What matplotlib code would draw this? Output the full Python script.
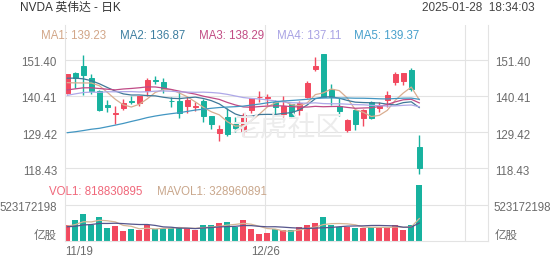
import matplotlib

matplotlib.use("Agg")
import matplotlib.pyplot as plt
from matplotlib.patches import Circle
from matplotlib.transforms import IdentityTransform
import numpy as np

plt.rcParams["font.family"] = ["Liberation Sans", "Noto Sans CJK SC", "DejaVu Sans"]

# daily candles 2024-11-19 .. 2025-01-27
dates = ["11/19", "11/20", "11/21", "11/22", "11/25", "11/26", "11/27", "11/29",
         "12/02", "12/03", "12/04", "12/05", "12/06", "12/09", "12/10", "12/11",
         "12/12", "12/13", "12/16", "12/17", "12/18", "12/19", "12/20", "12/23",
         "12/24", "12/26", "12/27", "12/30", "12/31", "01/02", "01/03", "01/06",
         "01/07", "01/08", "01/10", "01/13", "01/14", "01/15", "01/16", "01/17",
         "01/21", "01/22", "01/23", "01/24", "01/27"]
opens = [141.32, 147.41, 149.35, 145.93, 141.99, 137.70, 135.01, 136.78, 138.83, 138.26,
         142.00, 145.11, 144.60, 138.97, 139.01, 137.36, 137.08, 138.94, 134.18, 129.09,
         133.86, 131.76, 129.81, 136.28, 140.00, 139.70, 138.55, 134.83, 138.03, 136.00,
         140.01, 148.59, 153.03, 142.58, 137.45, 129.99, 136.05, 133.65, 138.64, 136.69,
         139.16, 144.66, 145.05, 148.37, 124.80]
highs = [147.13, 147.56, 152.89, 147.16, 142.05, 139.30, 137.22, 139.35, 140.45, 140.45,
         145.79, 146.54, 145.70, 139.95, 141.82, 140.17, 138.44, 139.60, 134.40, 131.59,
         136.70, 134.03, 135.28, 139.79, 141.90, 140.85, 139.02, 140.27, 138.07, 138.88,
         144.90, 152.16, 153.13, 143.95, 139.92, 133.49, 136.38, 136.45, 138.75, 138.50,
         141.83, 147.79, 147.23, 148.97, 128.40]
lows = [140.99, 142.73, 140.70, 141.10, 135.82, 135.67, 131.80, 136.05, 137.82, 137.32,
        140.30, 143.95, 141.31, 137.13, 133.79, 135.21, 135.80, 132.54, 130.42, 126.86,
        128.28, 129.55, 128.22, 135.12, 138.65, 137.73, 134.71, 134.02, 133.83, 134.63,
        139.73, 147.82, 140.01, 137.56, 134.22, 129.51, 130.05, 131.29, 133.49, 135.46,
        137.09, 143.67, 143.72, 141.88, 116.70]
closes = [147.01, 145.89, 146.67, 141.95, 136.02, 136.92, 135.34, 138.25, 138.63, 140.26,
          145.14, 145.06, 142.44, 138.81, 135.07, 139.31, 137.34, 134.25, 132.00, 130.39,
          128.91, 130.68, 134.70, 139.67, 140.22, 139.93, 137.01, 137.49, 134.29, 138.31,
          144.47, 149.43, 140.14, 140.11, 135.91, 133.23, 131.76, 136.24, 133.57, 137.71,
          140.83, 147.07, 147.22, 142.62, 118.42]
# volume, millions of shares
volumes = [227.8, 309.9, 400.9, 236.4, 344.9, 190.3, 226.4, 141.8, 171.7, 164.4,
           231.2, 172.6, 188.5, 189.3, 210.0, 184.9, 159.2, 231.5, 237.9, 259.4,
           277.4, 209.7, 306.5, 176.1, 105.2, 116.2, 170.6, 167.7, 155.7, 198.2,
           229.3, 265.4, 351.8, 227.3, 207.6, 204.8, 195.6, 185.2, 209.2, 201.2,
           197.7, 237.7, 155.9, 234.7, 818.830895]

# moving average lines as shown on the chart
ma1 = [144.43, 144.36, 144.34, 144.33, 143.51, 141.49, 139.38, 137.70, 137.03, 137.88,
       139.52, 141.47, 142.31, 142.34, 141.30, 140.14, 138.59, 136.96, 135.59, 134.66,
       132.58, 131.25, 131.34, 132.87, 134.84, 137.04, 138.31, 138.86, 137.79, 137.41,
       138.31, 140.80, 141.33, 142.49, 142.01, 139.76, 136.23, 135.45, 134.14, 134.50,
       136.02, 139.08, 141.28, 143.09, 139.23]
ma2 = [145.78, 145.81, 145.59, 145.02, 144.10, 142.96, 141.87, 141.02, 140.68, 140.69,
       140.51, 140.42, 140.00, 139.69, 139.59, 139.83, 140.03, 139.63, 138.97, 137.98,
       136.36, 134.92, 134.15, 134.23, 134.75, 134.81, 134.78, 135.10, 135.33, 136.12,
       137.68, 139.55, 140.10, 140.14, 139.71, 139.04, 138.51, 138.39, 138.32, 138.26,
       137.89, 137.66, 138.37, 138.62, 136.87]
ma3 = [142.23, 142.55, 142.86, 142.88, 142.65, 142.44, 142.24, 142.51, 142.67, 142.88,
       143.15, 143.12, 142.80, 142.36, 141.85, 141.40, 140.95, 140.32, 139.83, 139.34,
       138.43, 137.67, 137.07, 136.96, 137.17, 137.32, 137.40, 137.37, 137.15, 137.05,
       137.02, 137.24, 137.12, 137.19, 137.23, 136.92, 136.65, 136.74, 136.82, 137.19,
       137.79, 138.60, 139.23, 139.38, 138.29]
ma4 = [140.59, 141.03, 141.43, 141.56, 141.49, 141.67, 141.65, 141.70, 141.72, 141.60,
       141.66, 141.84, 141.91, 141.82, 141.63, 141.57, 141.50, 141.55, 141.44, 141.25,
       140.88, 140.39, 139.91, 139.65, 139.48, 139.20, 138.89, 138.58, 138.33, 138.27,
       138.18, 138.30, 138.08, 138.02, 138.02, 137.89, 137.77, 137.71, 137.54, 137.45,
       137.31, 137.38, 137.54, 137.66, 137.11]
ma5 = [129.24, 129.53, 129.89, 130.29, 130.57, 131.05, 131.54, 132.05, 132.65, 133.21,
       133.83, 134.30, 134.69, 135.02, 135.31, 135.71, 136.11, 136.38, 136.65, 136.88,
       137.02, 137.14, 137.31, 137.62, 137.93, 138.31, 138.62, 138.86, 139.02, 139.19,
       139.39, 139.67, 139.75, 139.79, 139.75, 139.78, 139.71, 139.70, 139.63, 139.53,
       139.48, 139.61, 139.72, 139.74, 139.37]
mavol1 = [217.2, 240.8, 282.1, 279.4, 304.0, 296.5, 279.8, 228.0, 215.0, 178.9,
          187.1, 176.3, 185.7, 189.2, 198.3, 189.1, 186.4, 195.0, 204.7, 214.6,
          233.1, 243.2, 258.2, 245.8, 215.0, 182.7, 174.9, 147.2, 143.1, 161.7,
          184.3, 203.3, 240.1, 254.4, 256.3, 251.4, 237.4, 204.1, 200.5, 199.2,
          197.8, 206.2, 200.3, 205.4, 328.960891]
mavol2 = [208.9, 215.7, 235.0, 241.4, 257.7, 256.9, 260.3, 255.0, 247.2, 241.5,
          241.8, 228.1, 206.8, 202.1, 188.6, 188.1, 181.4, 190.3, 197.0, 206.5,
          211.1, 214.8, 226.6, 225.3, 214.8, 207.9, 209.1, 202.7, 194.5, 188.3,
          183.5, 189.1, 193.6, 198.7, 209.0, 217.8, 220.3, 222.1, 227.4, 227.7,
          224.6, 221.8, 202.2, 203.0, 264.1]

price_levels = [118.43, 129.42, 140.41, 151.40]
vol_level = 523172198
date_labels = {0: "11/19", 25: "12/26"}

RED = "#f2495f"
GREEN = "#17b29f"
GRID = "#e3e3e3"
TXT = "#6b6b6b"
MA_COLORS = ["#d9ad90", "#3f7898", "#c04a86", "#aea8e8", "#4296c2"]
MA_TEXT = ["#d2a688", "#3e7fa0", "#c24c84", "#a9a3e4", "#47a0cc"]

W, H = 552, 265
fig = plt.figure(figsize=(W / 100, H / 100), dpi=100)


def box(l, t, r, b):
    return [l / W, 1 - b / H, (r - l) / W, (b - t) / H]


ax = fig.add_axes(box(65, 25, 488, 178))
axv = fig.add_axes(box(65, 178, 488, 241), sharex=ax)

x = np.arange(len(closes))
o = np.array(opens)
c = np.array(closes)
cols = [RED if cc >= oo else GREEN for oo, cc in zip(o, c)]

# watermark
fig.add_artist(Circle((215, H - 132), 25, transform=IdentityTransform(),
                      fill=False, ec="#ececec", lw=2.5, zorder=0))
fig.text(232 / W, 1 - 128 / H, "老虎社区", fontsize=20, color="#ececec",
         va="center", ha="left", family=["Noto Sans CJK SC"], zorder=0)

# candles
ax.vlines(x, lows, highs, colors=cols, lw=1, zorder=2)
ax.bar(x, np.abs(c - o), bottom=np.minimum(o, c), width=0.62, color=cols,
       edgecolor=cols, lw=0.7, zorder=2)
for vals, col in zip([ma1, ma2, ma3, ma4, ma5], MA_COLORS):
    ax.plot(x, vals, color=col, lw=0.9, zorder=3)

# volume
axv.bar(x, volumes, width=0.72, color=cols, zorder=2)
axv.plot(x, mavol1, color="#d6b595", lw=0.9, zorder=3)
axv.plot(x, mavol2, color="#55558c", lw=0.9, zorder=3)

ax.set_xlim(-0.29, 52.59)
ax.set_ylim(115.49, 161.93)
axv.set_ylim(0, 923e6 / 1e6)

for a in (ax, axv):
    a.set_xticks([24.75, 49.75])
    a.tick_params(length=0, labelbottom=False, labelleft=False)
    a.grid(True, color=GRID, lw=0.8)
    a.set_axisbelow(True)
    a.spines["top"].set_visible(False)
    for s in ("left", "right", "bottom"):
        a.spines[s].set_color(GRID)
        a.spines[s].set_linewidth(0.8)
ax.spines["bottom"].set_visible(False)
ax.set_yticks(price_levels)
axv.set_yticks([vol_level / 1e6])

# axis labels (both sides)
fs = 8.3
for v in price_levels:
    for xf, dx, ha in ((0, -8, "right"), (1, 7, "left")):
        ax.annotate(f"{v:.2f}", xy=(xf, v), xycoords=("axes fraction", "data"),
                    xytext=(dx, -3.5), textcoords="offset pixels",
                    ha=ha, va="center", fontsize=fs, color=TXT)
for xf, dx, ha in ((0, -8, "right"), (1, 5, "left")):
    axv.annotate(str(vol_level), xy=(xf, vol_level / 1e6),
                 xycoords=("axes fraction", "data"), xytext=(dx, -2.7),
                 textcoords="offset pixels", ha=ha, va="center", fontsize=fs, color=TXT)
    axv.annotate("亿股", xy=(xf, 0), xycoords=("axes fraction", "data"),
                 xytext=(dx if dx < 0 else 7, 5), textcoords="offset pixels",
                 ha=ha, va="center", fontsize=fs, color=TXT)

axv.annotate(date_labels[0], xy=(0, 0), xycoords="axes fraction", xytext=(0, -10.7),
             textcoords="offset pixels", ha="left", va="center", fontsize=fs, color=TXT)
axv.annotate(date_labels[25], xy=(24.75, 0), xycoords=("data", "axes fraction"),
             xytext=(0, -10.7), textcoords="offset pixels", ha="center", va="center",
             fontsize=fs, color=TXT)

# header
fig.text(20 / W, 1 - 8 / H, "NVDA 英伟达 - 日K", fontsize=8.5, color="#333333", va="center")
fig.text(535 / W, 1 - 8 / H, "2025-01-28  18:34:03", fontsize=8.5, color="#444444",
         va="center", ha="right")

# MA legend
ma_last = [ma1[-1], ma2[-1], ma3[-1], ma4[-1], ma5[-1]]
for i, (xp, v) in enumerate(zip([41, 120, 199, 277, 354], ma_last)):
    fig.text(xp / W, 1 - 36 / H, f"MA{i + 1}: {v:.2f}", fontsize=fs,
             color=MA_TEXT[i], va="center")

# volume legend
fig.text(49 / W, 1 - 192 / H, f"VOL1: {round(volumes[-1] * 1e6)}", fontsize=fs,
         color="#f0677a", va="center")
fig.text(157 / W, 1 - 192 / H, f"MAVOL1: {round(mavol1[-1] * 1e6)}", fontsize=fs,
         color="#c9a78c", va="center")

fig.savefig("out.png", dpi=100)
